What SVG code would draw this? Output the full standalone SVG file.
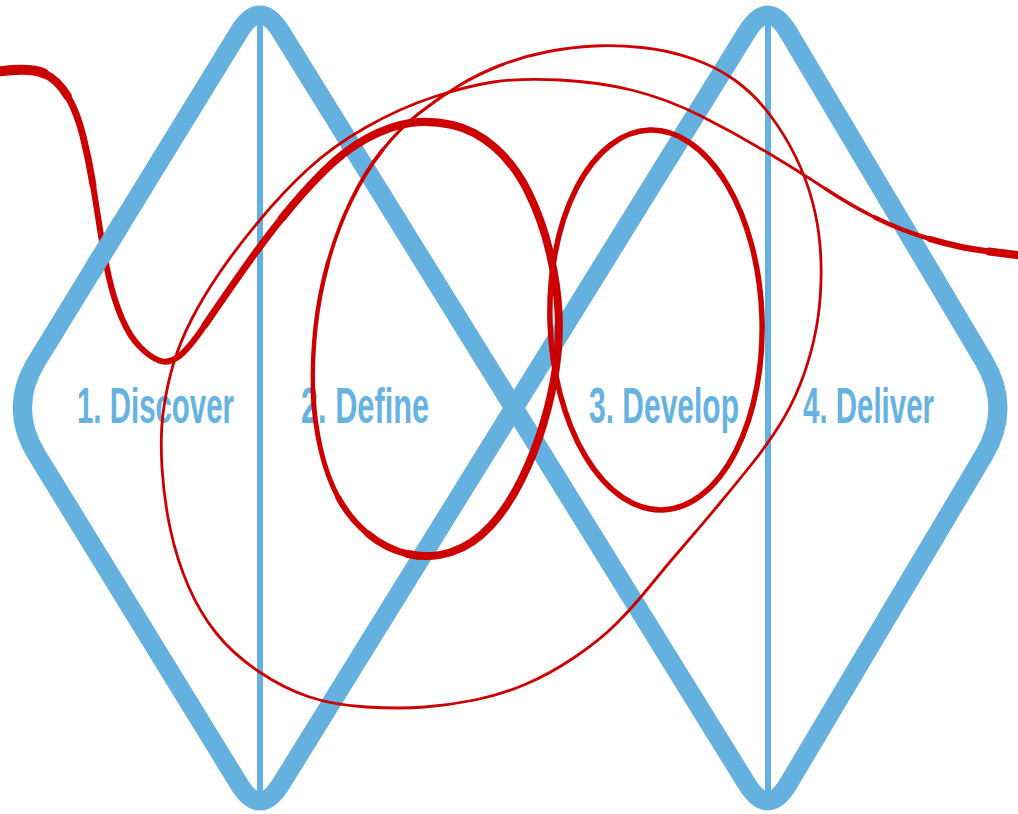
<svg xmlns="http://www.w3.org/2000/svg" width="1018" height="814" viewBox="0 0 1018 814">
<style>
.blue{fill:none;stroke:#64b0de;stroke-width:19;stroke-linejoin:round}
.vline{stroke:#64b0de;stroke-width:6}
.lbl{font-family:"Liberation Sans",Arial,sans-serif;font-weight:bold;font-size:50px;fill:#66b2e0}
.red{fill:none;stroke:#cc0000;stroke-linecap:round;stroke-linejoin:round}
</style>
<rect width="1018" height="814" fill="#ffffff"/>
<g id="diamonds">
<path class="blue" d="M239,32 Q260,-2 281,32 L746.9,784 Q768,818 788.4,783.6 L983.9,455.2 Q1012,408 983.9,360.8 L788.4,32.4 Q768,-2 746.9,32 L281,784 Q260,818 239,784 L36.8,454.9 Q8,408 36.8,361.1 Z"/>
<line class="vline" x1="260" y1="22" x2="260" y2="796"/>
<line class="vline" x1="768" y1="22" x2="768" y2="796"/>
</g>
<g id="labels">
<text id="discover" class="lbl" x="77" y="423" textLength="157" lengthAdjust="spacingAndGlyphs">1. Discover</text>
<text id="define" class="lbl" x="301" y="423" textLength="128" lengthAdjust="spacingAndGlyphs">2. Define</text>
<text id="develop" class="lbl" x="589" y="423" textLength="150" lengthAdjust="spacingAndGlyphs">3. Develop</text>
<text id="deliver" class="lbl" x="803" y="423" textLength="131" lengthAdjust="spacingAndGlyphs">4. Deliver</text>
</g>
<g id="red-line">
<path class="red" stroke-width="10" d="M-5,72 Q30,67 44,73.5"/>
<path class="red" stroke-width="8.5" d="M44,73.5 Q58,80 67.5,96"/>
<path class="red" stroke-width="7" d="M67.5,96 Q77,112 83,136 Q89,160 93,185"/>
<path class="red" stroke-width="6" d="M93,185 Q97,210 100.5,232.5 Q104,255 109,277.5 Q114,300 122,318.5 Q130,337 140,347 Q150,357 159,360.5 Q168,364 178,357 Q188,350 205,325"/>
<path class="red" stroke-width="7" d="M205,325 Q222,300 242,271.5 Q262,243 282,218"/>
<path class="red" stroke-width="8" d="M282,218 Q302,193 323.5,171.5 Q345,150 367.5,138 Q390,126 410,123 Q430,120 452.5,125 Q475,130 495,147.5 Q515,165 528.5,192.5 Q542,220 549.5,251.5 Q557,283 558.5,311.5 Q560,340 556,367.5 Q552,395 543.5,423.5 Q535,452 521.5,479.5 Q508,507 490.5,526 Q473,545 451.5,552 Q430,559 408,554"/>
<path class="red" stroke-width="7" d="M408,554 Q386,549 368,534"/>
<path class="red" stroke-width="6" d="M368,534 Q350,519 338.5,498"/>
<path class="red" stroke-width="5" d="M338.5,498 Q327,477 320.5,448.5 Q314,420 313,390"/>
<path class="red" stroke-width="4.4" d="M313,390 Q312,360 315.5,327.5 Q319,295 328,262.5"/>
<path class="red" stroke-width="3.8" d="M328,262.5 Q337,230 351,201 Q365,172 382.5,150"/>
<path class="red" stroke-width="3.2" d="M382.5,150 Q400,128 420,112.5 Q440,97 460,85 Q480,73 502.5,64.5"/>
<path class="red" stroke-width="2.8" d="M502.5,64.5 Q525,56 548.5,51.5 Q572,47 594.5,46 Q617,45 642,47.5 Q667,50 692,58.5 Q717,67 736,81 Q755,95 770,115 Q785,135 795.5,156.5 Q806,178 812,200 Q818,222 820,245 Q822,268 820.5,293 Q819,318 813.5,341.5 Q808,365 799.5,386 Q791,407 779,426 Q767,445 751,465 Q735,485 717.5,506 Q700,527 683.5,546 Q667,565 650,586 Q633,607 616.5,623.5 Q600,640 575,657 Q550,674 525,684.5 Q500,695 475,700 Q450,705 425,707 Q400,709 366.5,707 Q333,705 308,696.5 Q283,688 258,671 Q233,654 216.5,633.5 Q200,613 188.5,586.5 Q177,560 170.5,530 Q164,500 162,467.5 Q160,435 163.5,410 Q167,385 173.5,363.5 Q180,342 191.5,319.5 Q203,297 219,273.5 Q235,250 259,221 Q283,192 308,169 Q333,146 366.5,127 Q400,108 433.5,97 Q467,86 493.5,82 Q520,78 560,80 Q600,82 633.5,90.5 Q667,99 700,115.5 Q733,132 766.5,152 Q800,172 825,188.5"/>
<path class="red" stroke-width="3.4" d="M825,188.5 Q850,205 875,217.5"/>
<path class="red" stroke-width="4.5" d="M875,217.5 Q900,230 930,239"/>
<path class="red" stroke-width="6.2" d="M930,239 Q960,248 989,251.5"/>
<path class="red" stroke-width="8" d="M989,251.5 Q1005,253.5 1025,256"/>
<ellipse class="red" stroke-width="5.5" cx="656" cy="320" rx="106" ry="190" transform="rotate(-2 656 320)"/>
</g>
<g id="diamond-overlap">
<line x1="122.3" y1="222" x2="91.5" y2="272" stroke="#64b0de" stroke-width="19"/>
</g>
</svg>
